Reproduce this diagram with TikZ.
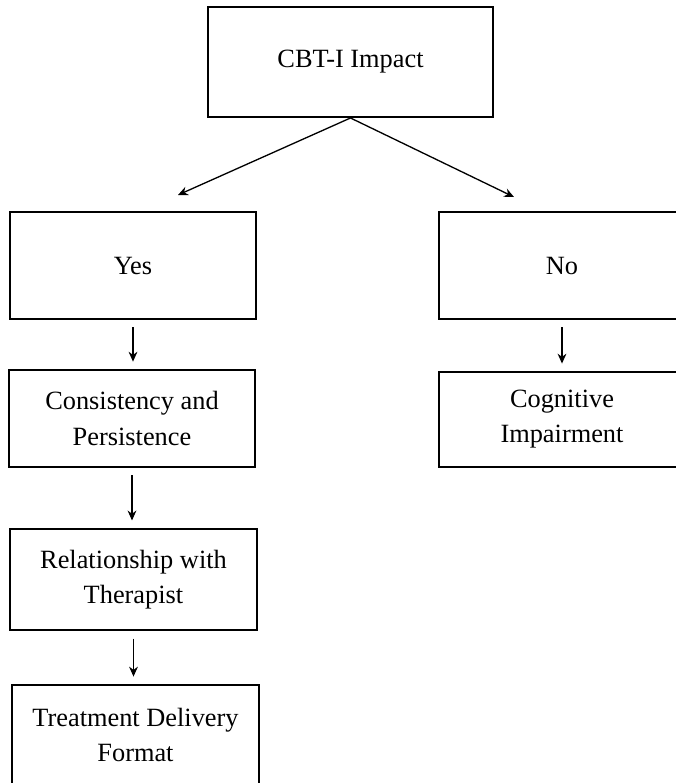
\documentclass[tikz,border=0pt]{standalone}
\usepackage{fontspec}
\setmainfont{Liberation Serif}
\usetikzlibrary{arrows.meta, positioning}

\tikzset{
	box/.style={draw, line width=0.9pt, align=center, inner sep=2pt,
		font=\fontsize{12}{16}\selectfont},
	link/.style={line width=0.6pt, -{Stealth[length=4.5pt, width=4pt]}},
}

\begin{document}
\begin{tikzpicture}[x=0.016cm, y=-0.016cm]
	\def\Wl{3.94cm}
	\def\Wr{3.95cm}
	\def\gap{3.4pt}

	\useasboundingbox (0,0) rectangle (675,783);

	\node[box, minimum width=4.56cm, minimum height=1.76cm]	(cbt)	at (350.5,62)	{CBT-I Impact};

	\node[box, minimum width=\Wl, minimum height=1.71cm]	(yes)	at (133,265.5)	{Yes};
	\node[box, minimum width=\Wr, minimum height=1.71cm]	(no)	at (562,265.5)	{No};

	\node[box, minimum width=\Wl, minimum height=1.55cm]	(cons)	at (132,418.5)	{Consistency and\\Persistence};
	\node[box, minimum width=\Wr, minimum height=1.52cm]	(cog)	at (562,419.5)	{Cognitive\\Impairment};
	\node[box, minimum width=\Wl, minimum height=1.62cm]	(rel)	at (133.5,579.5)	{Relationship with\\Therapist};
	\node[box, minimum width=\Wl, minimum height=1.60cm]	(treat)	at (135.5,735)	{Treatment Delivery\\Format};

	% split arrows stop short of the boxes
	\coordinate (yestip)	at (178,195);
	\coordinate (notip)	at (514,197);
	\draw[link]	(cbt.south) -- (yestip);
	\draw[link]	(cbt.south) -- (notip);

	\draw[link, shorten <=\gap, shorten >=\gap]	(yes.south) -- (yes.south |- cons.north);
	\draw[link, shorten <=\gap, shorten >=\gap]	(no.south) -- (no.south |- cog.north);
	\draw[link, shorten <=\gap, shorten >=\gap]	(cons.south) -- (cons.south |- rel.north);
	\draw[link, shorten <=\gap, shorten >=\gap]	(rel.south) -- (rel.south |- treat.north);
\end{tikzpicture}
\end{document}
